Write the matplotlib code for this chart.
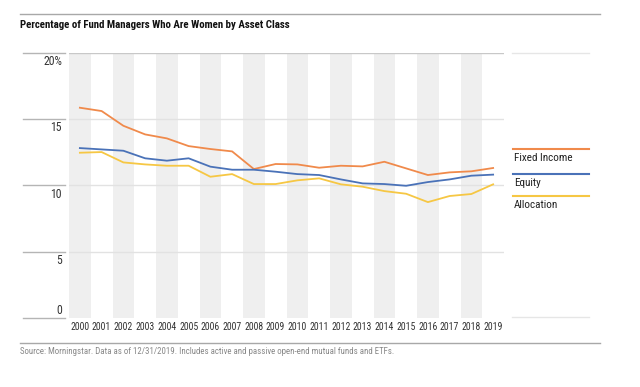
import matplotlib
matplotlib.use("Agg")
import matplotlib.pyplot as plt
from matplotlib import font_manager
from matplotlib.lines import Line2D

names = {f.name for f in font_manager.fontManager.ttflist}
FONT = "DejaVu Sans"
for cand in ["Roboto Condensed", "Liberation Sans Narrow", "Archivo Narrow", "Barlow Condensed"]:
    if cand in names:
        FONT = cand
        break
plt.rcParams["font.family"] = [FONT, "DejaVu Sans"]

years = [str(y) for y in range(2000, 2020)]
fixed_income = [15.84, 15.59, 14.48, 13.83, 13.53, 12.95, 12.73, 12.55, 11.22, 11.6,
                11.57, 11.32, 11.47, 11.42, 11.77, 11.27, 10.77, 10.97, 11.05, 11.3]
equity = [12.8, 12.7, 12.6, 12.03, 11.85, 12.03, 11.4, 11.17, 11.17, 11.02,
          10.84, 10.77, 10.44, 10.14, 10.09, 9.96, 10.24, 10.44, 10.72, 10.8]
allocation = [12.45, 12.5, 11.72, 11.57, 11.47, 11.47, 10.64, 10.84, 10.09, 10.09,
              10.37, 10.52, 10.07, 9.89, 9.56, 9.36, 8.73, 9.19, 9.34, 10.07]
series_names = ["Fixed Income", "Equity", "Allocation"]
colors = ["#F08A4B", "#4A72B8", "#F6C744"]
yticks = [0, 5, 10, 15, 20]
ytick_labels = ["0", "5", "10", "15", "20%"]

W, H = 640, 387
fig = plt.figure(figsize=(W / 100, H / 100), dpi=100)

def fx(px):
    return px / W

def fy(py):
    return 1 - py / H

left, right, top, bottom = 69, 504, 52.5, 318
ax = fig.add_axes([fx(left), fy(bottom), fx(right - left), (bottom - top) / H])
ax.set_xlim(-0.5, len(years) - 0.5)
ax.set_ylim(0, 20)
for s in ax.spines.values():
    s.set_visible(False)
ax.set_yticks([])
ax.set_xticks(range(len(years)))
ax.set_xticklabels(years, fontsize=7, color="#333333")
ax.tick_params(axis="x", length=0, pad=3)

for i in range(0, len(years), 2):
    ax.axvspan(i - 0.5, i + 0.5, color="#efefef", lw=0, zorder=0)
for v in yticks[1:]:
    ax.axhline(v, color="#c8c8c8" if v == 20 else "#e2e2e2", lw=1, zorder=1)

x = list(range(len(years)))
for data, c in zip([fixed_income, equity, allocation], colors):
    ax.plot(x, data, color=c, lw=1.3, zorder=3)

# left tick segments and labels
for v, lab in zip(yticks, ytick_labels):
    py = bottom - (bottom - top) * v / 20
    fig.add_artist(Line2D([fx(23), fx(65)], [fy(py), fy(py)], color="#b5b5b5", lw=1))
    ty = py - 8 if v == 0 else py + 9
    fig.text(fx(62), fy(ty), lab, ha="right", va="center", fontsize=8.5, color="#333333")

# legend
fig.add_artist(Line2D([fx(512), fx(589)], [fy(53), fy(53)], color="#e6e6e6", lw=1))
fig.add_artist(Line2D([fx(512), fx(589)], [fy(317), fy(317)], color="#e6e6e6", lw=1))
for name, c, ly in zip(series_names, colors, [149, 174, 196]):
    fig.add_artist(Line2D([fx(513), fx(589)], [fy(ly), fy(ly)], color=c, lw=1.5))
    fig.text(fx(514), fy(ly + 9), name, ha="left", va="center", fontsize=8, color="#222222")

# top and bottom rules
fig.add_artist(Line2D([fx(20), fx(600)], [fy(14), fy(14)], color="#a8a8a8", lw=1))
fig.add_artist(Line2D([fx(20), fx(600)], [fy(343), fy(343)], color="#a8a8a8", lw=1))

fig.text(fx(20), fy(25), "Percentage of Fund Managers Who Are Women by Asset Class",
         ha="left", va="center", fontsize=7.8, fontweight="bold", color="#111111")
fig.text(fx(20), fy(352), "Source: Morningstar. Data as of 12/31/2019. Includes active and passive open-end mutual funds and ETFs.",
         ha="left", va="center", fontsize=6.4, color="#888888")

fig.savefig("out.png", dpi=100)
